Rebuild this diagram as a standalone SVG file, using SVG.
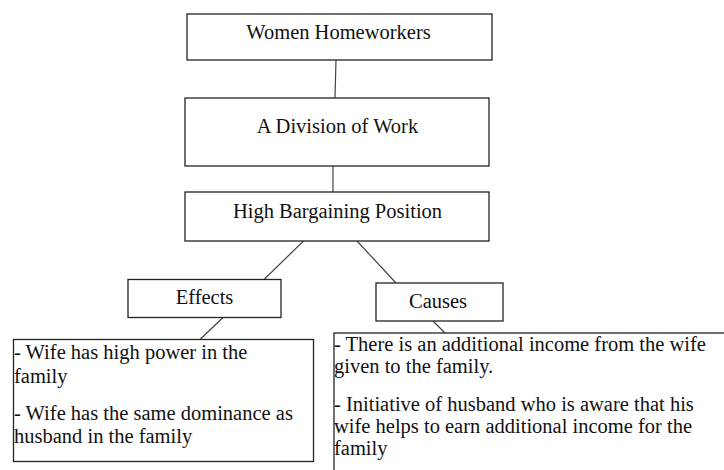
<svg xmlns="http://www.w3.org/2000/svg" width="724" height="470" viewBox="0 0 724 470" font-family="'Liberation Serif', 'Times New Roman', serif">
<style>
.box{fill:#fff;stroke:#222;stroke-width:1.3}
.ln{stroke:#444;stroke-width:1.2;fill:none}
text{font-family:'Liberation Serif','Times New Roman',serif;font-size:20.5px;fill:#111}
.c{text-anchor:middle}
</style>
<rect width="724" height="470" fill="#fff"/>
<g id="connectors">
<line class="ln" x1="336" y1="60" x2="335" y2="98"/>
<line class="ln" x1="333" y1="166" x2="333" y2="192"/>
<line class="ln" x1="303.5" y1="241" x2="264" y2="279.5"/>
<line class="ln" x1="357" y1="241" x2="396" y2="283"/>
<line class="ln" x1="223" y1="317.5" x2="200" y2="339.5"/>
<line class="ln" x1="433" y1="321" x2="445" y2="333"/>
</g>
<g id="women-homeworkers">
<rect class="box" x="187" y="14" width="305" height="46"/>
<text class="c" x="338.5" y="39">Women Homeworkers</text>
</g>
<g id="division-of-work">
<rect class="box" x="185" y="98" width="304" height="68"/>
<text class="c" x="337.5" y="133">A Division of Work</text>
</g>
<g id="high-bargaining">
<rect class="box" x="185" y="192" width="304" height="49"/>
<text class="c" x="337.5" y="218">High Bargaining Position</text>
</g>
<g id="effects">
<rect class="box" x="128" y="279.5" width="153" height="38"/>
<text class="c" x="204.5" y="304">Effects</text>
</g>
<g id="causes">
<rect class="box" x="376" y="283" width="127" height="38"/>
<text class="c" x="438" y="308">Causes</text>
</g>
<g id="effects-detail">
<rect class="box" x="13.5" y="339.5" width="300" height="122"/>
<text x="14" y="359">- Wife has high power in the</text>
<text x="14" y="383">family</text>
<text x="14" y="420">- Wife has the same dominance as</text>
<text x="14" y="443">husband in the family</text>
</g>
<g id="causes-detail">
<rect class="box" x="334" y="333" width="420" height="160"/>
<text x="334" y="351">- There is an additional income from the wife</text>
<text x="334" y="373">given to the family.</text>
<text x="334" y="411">- Initiative of husband who is aware that his</text>
<text x="334" y="433">wife helps to earn additional income for the</text>
<text x="334" y="455">family</text>
</g>
</svg>
